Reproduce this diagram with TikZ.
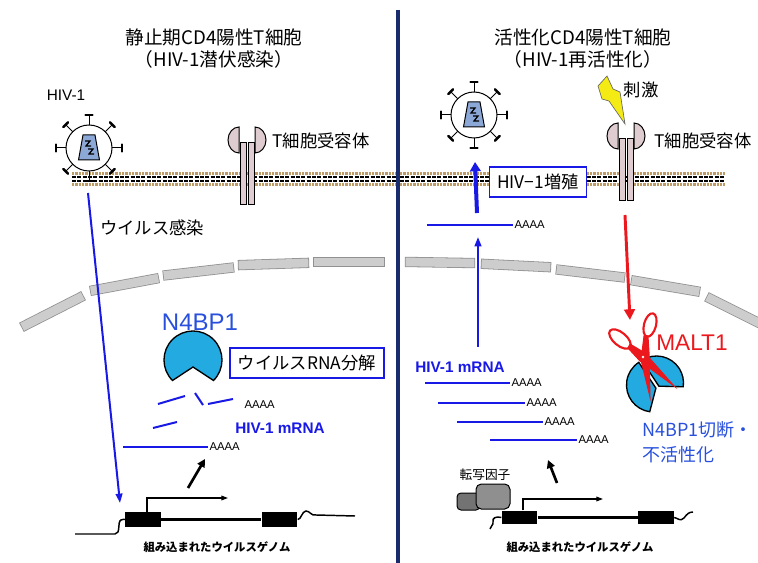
\documentclass[tikz,border=0pt]{standalone}
\usepackage{fontspec}
\setmainfont{Noto Sans CJK JP}
\newfontfamily\arialfont{Liberation Sans}
\usetikzlibrary{arrows.meta}

\definecolor{hivblue}{RGB}{25,25,230}
\definecolor{txtblue}{RGB}{40,80,220}
\definecolor{pacblue}{RGB}{35,170,225}
\definecolor{divnavy}{RGB}{25,45,110}
\definecolor{maltred}{RGB}{235,25,30}
\definecolor{envfill}{RGB}{205,205,205}
\definecolor{envline}{RGB}{145,145,145}
\definecolor{lipid}{RGB}{190,155,100}
\definecolor{rcpfill}{RGB}{222,204,208}
\definecolor{capfill}{RGB}{140,168,215}
\definecolor{boltyel}{RGB}{245,235,20}
\definecolor{tfgray}{RGB}{115,115,115}

\tikzset{every picture/.style={line width=0.75pt}}
\tikzset{
  ttl/.style={inner sep=0.75pt, align=center, font=\fontsize{14}{16.5}\selectfont},
  jtxt/.style={inner sep=0.75pt, font=\fontsize{13}{15}\selectfont},
  latxt/.style={inner sep=0.75pt, font=\arialfont\fontsize{11.5}{13}\selectfont},
  polya/.style={inner sep=0.75pt, anchor=west, font=\arialfont\fontsize{8.5}{10}\selectfont},
  mrnalbl/.style={inner sep=0.75pt, text=hivblue, font=\arialfont\bfseries\fontsize{11.5}{13}\selectfont},
  gnmlbl/.style={inner sep=0.75pt, font=\bfseries\fontsize{8.5}{10}\selectfont},
  bluebox/.style={draw=hivblue, fill=white, line width=1pt, inner xsep=6pt, minimum height=22.5pt, font=\fontsize{13}{15}\selectfont},
  gbox/.style={fill=black, inner sep=0pt, minimum width=26.5pt, minimum height=11pt},
  rna/.style={draw=hivblue, line width=1.5pt},
  gline/.style={draw=black, line width=1.1pt},
  infarr/.style={draw=hivblue, line width=1.5pt, -{Triangle[length=7pt,width=5pt]}},
  fatarr/.style={draw=hivblue, line width=3pt, -{Triangle[length=7pt,width=8pt]}},
  blkarr/.style={draw=black, line width=2pt, -{Triangle[length=6pt,width=6pt]}},
  redarr/.style={draw=maltred, line width=2.2pt, -{Triangle[length=8pt,width=8pt]}},
  tss/.style={draw=black, line width=0.9pt, -{Triangle[length=5pt,width=3.5pt]}},
  envseg/.style={draw=envline, line width=0.6pt, double=envfill, double distance=6.5pt, line cap=rect},
  pacpiece/.style={fill=pacblue, draw=black, line width=1pt},
  scissor/.style={draw=maltred, line width=1.6pt},
  virion/.pic={
    \foreach \a in {0,45,...,315}{
      \draw[rotate=\a] (23,0) -- (33,0);
      \draw[rotate=\a, line width=1.8pt, line cap=round] (33,-3.5) -- (33,3.5);
    }
    \draw[fill=white] (0,0) circle[radius=23];
    \draw[fill=capfill] (-6,-13) -- (6,-13) -- (10.5,12) -- (-10.5,12) -- cycle;
    \draw[line width=0.9pt] (-4,-7) -- (1,-7) -- (-3,-2) -- (2,-2);
    \draw[line width=0.9pt] (-1,1) -- (4,1) -- (0,6) -- (5,6);
  },
  tcr/.pic={
    \foreach \s in {1,-1}
      \draw[fill=rcpfill, xscale=\s] (-8,0) arc[start angle=-90, end angle=-270, x radius=11, y radius=13] -- cycle;
    \draw[fill=rcpfill] (-7,16) rectangle (-1,78);
    \draw[fill=rcpfill] (1,16) rectangle (7,78);
  }
}

\begin{document}
\begin{tikzpicture}[x=0.75pt,y=0.75pt,yscale=-1,xscale=1]
\useasboundingbox (0,0) rectangle (758,563);

% Cell membrane
\foreach \xa/\xb in {72/396,400/725}{
  \fill[white] (\xa,171) rectangle (\xb,187);
  \draw[lipid, line width=2.6pt, dash pattern=on 1.8pt off 0.7pt] (\xa,173.5) -- (\xb,173.5);
  \draw[lipid, line width=2.6pt, dash pattern=on 1.8pt off 0.7pt] (\xa,184.5) -- (\xb,184.5);
  \draw[line width=1.5pt, dash pattern=on 3pt off 1pt] (\xa,177) -- (\xb,177);
  \draw[line width=1.5pt, dash pattern=on 3pt off 1pt] (\xa,181) -- (\xb,181);
}

% Nuclear envelope
\foreach \ax/\ay/\bx/\by in {26/325/79/298, 95/290/154/279, 168/275/229/268, 243/265/304/263, 318/262/380/262,
                             410/262/470/263, 486/264/546/267, 561/270/620/277, 636/281/695/291, 711/299/765/326}
  \draw[envseg] (\ax,\ay) -- (\bx,\by);

% Divider
\draw[divnavy, line width=3pt] (398,10) -- (398,563);

% Titles
\node[ttl] (ttlL) at (214,49) {静止期CD4陽性T細胞\\（HIV-1潜伏感染）};
\node[ttl] (ttlR) at (583,49) {活性化CD4陽性T細胞\\（HIV-1再活性化）};

% Virions
\pic[transform shape] at (89,148) {virion};
\pic[transform shape] at (474,115) {virion};
\node[latxt] (hivlbl) at (66,95) {HIV-1};

% T cell receptors
\pic[transform shape] at (247,127) {tcr};
\pic[transform shape] at (626,123) {tcr};
\node[jtxt, anchor=west] (tcrlblL) at (271,141) {T細胞受容体};
\node[jtxt, anchor=west] (tcrlblR) at (653,141) {T細胞受容体};

% Stimulus
\draw[fill=boltyel, draw=black!60, line width=0.5pt] (598,86) -- (607,76) -- (613,89) -- (620,92) -- (625,124) -- (609,101) -- (602,99) -- cycle;
\node[jtxt] (stim) at (641,90) {刺激};

% ---------- latent side ----------
\coordinate (infS) at (88,193);
\coordinate (infE) at (120,503);
\draw[infarr] (infS) -- (infE);
\node[jtxt] (inflbl) at (152,228) {ウイルス感染};

\node[inner sep=0.75pt, text=txtblue, font=\arialfont\fontsize{18}{20}\selectfont] (n4lbl) at (200,322) {N4BP1};
\begin{scope}[shift={(193,360)}]
  \filldraw[pacpiece] (0,7) -- (135:29) arc[start angle=135, end angle=405, radius=29] -- cycle;
\end{scope}
\node[bluebox] (degbox) at (307,363) {ウイルスRNA分解};

% RNA fragments
\draw[rna] (158,404) -- (185,396);
\draw[rna] (195,393) -- (203,405);
\draw[rna] (208,404) -- (233,399);
\draw[rna] (153,428) -- (177,422);
\node[polya] (paL0) at (243,405) {AAAA};
\node[mrnalbl] (mrnaL) at (280,428) {HIV-1 mRNA};
\node[polya] (paL1) at (208,447) {AAAA};
\draw[rna] (paL1.west) -- ++(-85,0);

\coordinate (txLs) at (188,488);
\coordinate (txLe) at (205,459);
\draw[blkarr] (txLs) -- (txLe);

% Provirus
\node[gbox] (exL1) at (143,519.5) {};
\node[gbox] (exL2) at (279.5,519.5) {};
\draw[black, line width=2.25pt] (exL1.east) -- (exL2.west);
\draw[gline] (75,534) -- (115,534) .. controls (121,534) and (117,522) .. (121,520) .. controls (123,519) and (124,519.5) .. (exL1.west);
\draw[gline] (exL2.east) .. controls (301,520) and (302,511) .. (306,511) .. controls (310,511) and (311,516) .. (316,515) -- (355,516);
\coordinate (tssL) at (228,498);
\draw[tss] ([xshift=3pt]exL1.north) |- (tssL);
\node[gnmlbl] (gnmL) at (217,547) {組み込まれたウイルスゲノム};

% ---------- activated side ----------
\coordinate (relS) at (477,213);
\coordinate (relE) at (475,162);
\draw[fatarr] (relS) -- (relE);
\node[bluebox] (repbox) at (538,182) {HIV−1増殖};

\node[polya] (paR0) at (513,225) {AAAA};
\draw[rna] (paR0.west) -- ++(-86,0);
\coordinate (expS) at (478,347);
\coordinate (expE) at (478,237);
\draw[infarr] (expS) -- (expE);

\node[mrnalbl] (mrnaR) at (460,367) {HIV-1 mRNA};
\node[polya] (paR1) at (510,383) {AAAA};
\node[polya] (paR2) at (525,403) {AAAA};
\node[polya] (paR3) at (543,422) {AAAA};
\node[polya] (paR4) at (577,440) {AAAA};
\draw[rna] (paR1.west) -- ++(-85,0);
\draw[rna] (paR2.west) -- ++(-87,0);
\draw[rna] (paR3.west) -- ++(-86,0);
\draw[rna] (paR4.west) -- ++(-87,0);

\coordinate (txRs) at (557,483);
\coordinate (txRe) at (548,460);
\draw[blkarr] (txRs) -- (txRe);

% Transcription factor
\node[jtxt, font=\fontsize{9.5}{11}\selectfont] (tflbl) at (485,475) {転写因子};
\draw[fill=tfgray, rounded corners=3pt] (457,493) rectangle (480,510);
\draw[fill=tfgray!80!white, rounded corners=4pt] (476,484) rectangle (510,509);

% Provirus
\node[gbox, minimum height=10pt] (exR1) at (519.5,517.5) {};
\node[gbox, minimum height=10pt] (exR2) at (656,517.5) {};
\draw[black, line width=2.25pt] (exR1.east) -- (exR2.west);
\draw[gline] (exR1.west) .. controls (496,516) and (492,518) .. (493,522) .. controls (494,525) and (490,526) .. (490,529);
\draw[gline] (exR2.east) .. controls (678,518) and (680,522) .. (684,518) .. controls (687,514) and (689,512) .. (693,512);
\coordinate (tssR) at (603,499);
\draw[tss] ([xshift=2.6pt]exR1.north) |- (tssR);
\node[gnmlbl] (gnmR) at (580,547) {組み込まれたウイルスゲノム};

% MALT1 cleavage
\coordinate (sigS) at (625,215);
\coordinate (sigE) at (630,320);
\draw[redarr] (sigS) -- (sigE);

\begin{scope}[shift={(655,384)}]
  \filldraw[pacpiece, shift={(1.5,-1)}] (53:4) -- (-123:27) arc[start angle=-123, end angle=8, radius=27] -- cycle;
  \filldraw[pacpiece, shift={(-1.5,1)}] (53:4) -- (98:27) arc[start angle=98, end angle=237, radius=27] -- cycle;
\end{scope}

\draw[scissor, shift={(620,339)}, rotate=40] (0,0) ellipse[x radius=13, y radius=6.5];
\draw[scissor, shift={(650,325)}, rotate=15] (0,0) ellipse[x radius=6, y radius=12];
\filldraw[fill=maltred, draw=maltred] (630,344) -- (645,353) -- (674,386) -- (640,361) -- (628,348) -- cycle;
\filldraw[fill=maltred, draw=maltred] (644,336) -- (648,336) -- (649,352) -- (650,397) -- (641,360) -- cycle;
\fill[white] (643,357) circle[radius=1.3];

\node[inner sep=0.75pt, text=maltred, font=\arialfont\fontsize{17}{19}\selectfont] (maltlbl) at (692,343) {MALT1};
\node[inner sep=0.75pt, anchor=north west, align=left, text=txtblue, font=\fontsize{13.5}{19}\selectfont] (cutlbl) at (641,420) {N4BP1切断・\\不活性化};

\end{tikzpicture}
\end{document}
